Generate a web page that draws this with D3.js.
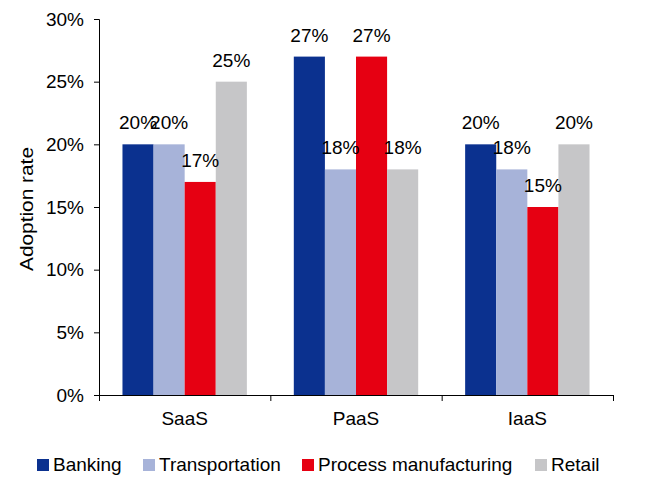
<!DOCTYPE html>
<html><head><meta charset="utf-8">
<script src="https://cdn.jsdelivr.net/npm/d3@7"></script>
<style>body{margin:0;background:#fff}svg{display:block}text{font-family:Arial,"Liberation Sans",sans-serif;fill:#000}</style>
</head><body><svg id="c" width="650" height="481"></svg>
<script>
const categories = ["SaaS", "PaaS", "IaaS"];
const seriesNames = ["Banking", "Transportation", "Process manufacturing", "Retail"];
const banking = [20, 27, 20];
const transportation = [20, 18, 18];
const processManufacturing = [17, 27, 15];
const retail = [25, 18, 20];
const yTicks = [0, 5, 10, 15, 20, 25, 30];
const colors = ["#0b318f", "#a7b3d9", "#e60012", "#c6c6c8"];
const seriesValues = [banking, transportation, processManufacturing, retail];

(function() {
const svg = d3.select("#c");
const pL = 99, pR = 613, pT = 19, pB = 395;
const x0 = d3.scaleBand().domain(categories).range([pL, pR]).padding(0);
const gap = x0.bandwidth() * 0.137;
const x1 = d3.scaleBand().domain(seriesNames).range([gap, x0.bandwidth() - gap]).padding(0);
const y = d3.scaleLinear().domain([0, 30]).range([pB, pT]);
const fs = 19;

const groups = svg.append("g").selectAll("g").data(categories).join("g")
  .attr("transform", d => `translate(${x0(d)},0)`);
groups.each(function(cat, ci) {
  const g = d3.select(this);
  seriesNames.forEach((s, si) => {
    const v = seriesValues[si][ci];
    g.append("rect").attr("x", x1(s)).attr("y", y(v)).attr("width", x1.bandwidth())
      .attr("height", y(0) - y(v)).attr("fill", colors[si]);
  });
  seriesNames.forEach((s, si) => {
    const v = seriesValues[si][ci];
    g.append("text").attr("x", x1(s) + x1.bandwidth() / 2).attr("y", y(v) - 15)
      .attr("text-anchor", "middle").style("font-size", fs + "px").text(v + "%");
  });
});

const ya = svg.append("g").attr("transform", `translate(${pL},0)`)
  .call(d3.axisLeft(y).tickValues(yTicks).tickSize(5).tickPadding(10).tickFormat(d => d + "%"));
ya.select(".domain").attr("stroke", "#000").attr("d", `M-5,${pT+0.5}H0.5V${pB}`);
ya.selectAll(".tick line").attr("stroke", "#000");
ya.selectAll(".tick text").style("font-size", fs + "px").style("font-family", "Arial, 'Liberation Sans', sans-serif").attr("fill", "#000");

const xa = svg.append("g").attr("transform", `translate(0,${pB})`);
xa.append("line").attr("x1", pL).attr("x2", pR).attr("y1", 0.5).attr("y2", 0.5).attr("stroke", "#000");
const bounds = categories.map(c => x0(c)).concat([pR]);
xa.selectAll("line.t").data(bounds).join("line").attr("class", "t")
  .attr("x1", d => d + 0.5).attr("x2", d => d + 0.5).attr("y1", 0).attr("y2", 6).attr("stroke", "#000");
xa.selectAll("text").data(categories).join("text")
  .attr("x", d => x0(d) + x0.bandwidth() / 2).attr("y", 30)
  .attr("text-anchor", "middle").style("font-size", fs + "px").text(d => d);

svg.append("text").attr("transform", `translate(33,${(pT + pB) / 2 + 2}) rotate(-90)`)
  .attr("text-anchor", "middle").style("font-size", "18px")
  .attr("textLength", 124).attr("lengthAdjust", "spacingAndGlyphs").text("Adoption rate");

const legX = [37, 143, 302, 535];
const leg = svg.append("g");
seriesNames.forEach((s, i) => {
  leg.append("rect").attr("x", legX[i]).attr("y", 459).attr("width", 12).attr("height", 12).attr("fill", colors[i]);
  leg.append("text").attr("x", legX[i] + 16).attr("y", 471).style("font-size", fs + "px").text(s);
});
})();
</script></body></html>
